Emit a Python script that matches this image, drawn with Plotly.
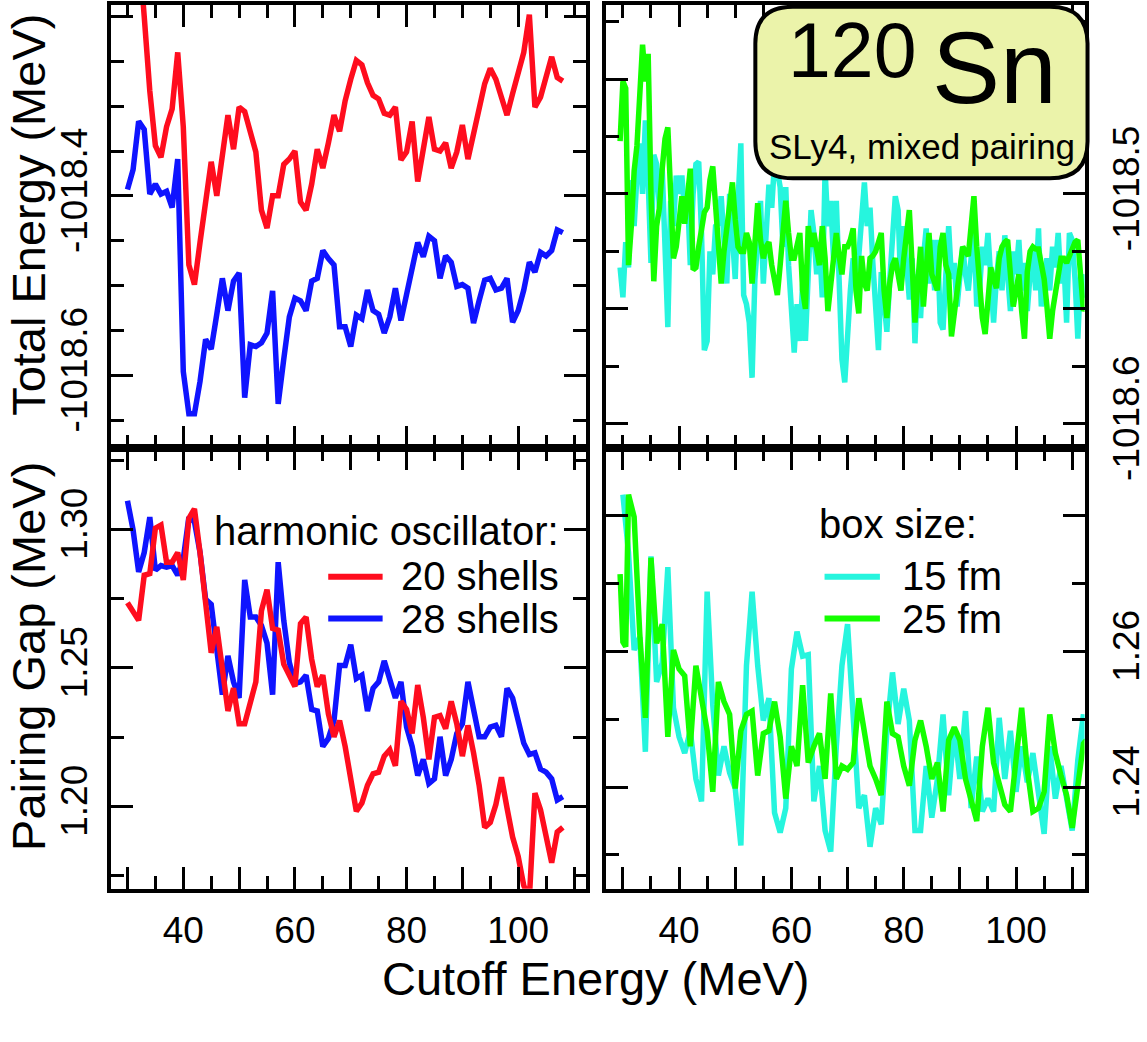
import numpy as np
import plotly.graph_objects as go

W, H = 1147, 1042

# ---------------- data ----------------
ho_x = list(range(30, 109))

energy_20_shells = [
    -1018.050, -1018.090, -1018.120, -1018.200, -1018.283, -1018.344, -1018.357, -1018.323, -1018.303, -1018.240,
    -1018.323, -1018.477, -1018.499, -1018.452, -1018.405, -1018.362, -1018.400, -1018.353, -1018.310, -1018.348,
    -1018.301, -1018.306, -1018.326, -1018.351, -1018.416, -1018.436, -1018.400, -1018.400, -1018.365, -1018.359,
    -1018.350, -1018.407, -1018.416, -1018.387, -1018.348, -1018.369, -1018.341, -1018.310, -1018.328, -1018.294,
    -1018.270, -1018.249, -1018.254, -1018.274, -1018.288, -1018.292, -1018.308, -1018.310, -1018.301, -1018.360,
    -1018.351, -1018.317, -1018.384, -1018.344, -1018.312, -1018.348, -1018.350, -1018.341, -1018.369, -1018.351,
    -1018.321, -1018.359, -1018.330, -1018.299, -1018.275, -1018.258, -1018.270, -1018.290, -1018.310, -1018.286,
    -1018.261, -1018.240, -1018.198, -1018.301, -1018.290, -1018.268, -1018.245, -1018.268, -1018.272]

energy_28_shells = [
    -1018.393, -1018.371, -1018.317, -1018.326, -1018.398, -1018.387, -1018.398, -1018.395, -1018.413, -1018.359,
    -1018.596, -1018.643, -1018.643, -1018.607, -1018.560, -1018.571, -1018.532, -1018.492, -1018.528, -1018.495,
    -1018.486, -1018.625, -1018.566, -1018.568, -1018.564, -1018.553, -1018.506, -1018.632, -1018.582, -1018.535,
    -1018.514, -1018.517, -1018.528, -1018.495, -1018.492, -1018.461, -1018.470, -1018.477, -1018.546, -1018.546,
    -1018.568, -1018.533, -1018.537, -1018.505, -1018.528, -1018.532, -1018.553, -1018.535, -1018.503, -1018.539,
    -1018.510, -1018.481, -1018.452, -1018.468, -1018.445, -1018.450, -1018.492, -1018.467, -1018.474, -1018.501,
    -1018.499, -1018.503, -1018.542, -1018.517, -1018.494, -1018.492, -1018.505, -1018.503, -1018.492, -1018.541,
    -1018.528, -1018.505, -1018.474, -1018.485, -1018.463, -1018.467, -1018.461, -1018.438, -1018.441]

gap_20_shells = [
    1.2735, 1.2706, 1.2671, 1.2834, 1.2840, 1.3004, 1.3015, 1.2881, 1.2881, 1.2916,
    1.2817, 1.3039, 1.3074, 1.2916, 1.2741, 1.2554, 1.2648, 1.2508, 1.2344, 1.2426,
    1.2298, 1.2298, 1.2368, 1.2449, 1.2706, 1.2782, 1.2642, 1.2636, 1.2513, 1.2473,
    1.2432, 1.2659, 1.2683, 1.2531, 1.2432, 1.2473, 1.2333, 1.2251, 1.2309, 1.2216,
    1.2099, 1.1982, 1.2012, 1.2076, 1.2117, 1.2123, 1.2181, 1.2204, 1.2146, 1.2379,
    1.2350, 1.2263, 1.2438, 1.2321, 1.2169, 1.2321, 1.2327, 1.2280, 1.2379, 1.2298,
    1.2181, 1.2292, 1.2193, 1.2076, 1.1924, 1.1942, 1.2006, 1.2105, 1.1994, 1.1889,
    1.1819, 1.1714, 1.1667, 1.2047, 1.1988, 1.1889, 1.1796, 1.1907, 1.1924]

gap_28_shells = [
    1.3103, 1.2998, 1.2846, 1.2916, 1.3044, 1.2852, 1.2869, 1.2863, 1.2869, 1.2834,
    1.2893, 1.3044, 1.3027, 1.2916, 1.2747, 1.2729, 1.2566, 1.2403, 1.2543, 1.2449,
    1.2391, 1.2817, 1.2683, 1.2683, 1.2653, 1.2589, 1.2403, 1.2881, 1.2671, 1.2519,
    1.2443, 1.2449, 1.2473, 1.2350, 1.2344, 1.2216, 1.2245, 1.2309, 1.2508, 1.2508,
    1.2583, 1.2461, 1.2473, 1.2344, 1.2426, 1.2449, 1.2525, 1.2461, 1.2391, 1.2449,
    1.2286, 1.2216, 1.2111, 1.2169, 1.2082, 1.2099, 1.2251, 1.2111, 1.2169, 1.2263,
    1.2298, 1.2449, 1.2356, 1.2251, 1.2251, 1.2286, 1.2292, 1.2251, 1.2426, 1.2391,
    1.2309, 1.2228, 1.2187, 1.2193, 1.2134, 1.2123, 1.2099, 1.2023, 1.2035]

box_energy_x = list(np.arange(29.5, 112.75, 0.5))

energy_15_fm = [
    -1018.532, -1018.545, -1018.521, -1018.532, -1018.494, -1018.514, -1018.492, -1018.478, -1018.500, -1018.468,
    -1018.494, -1018.530, -1018.483, -1018.487, -1018.506, -1018.489, -1018.523, -1018.558, -1018.503, -1018.514,
    -1018.492, -1018.500, -1018.492, -1018.508, -1018.500, -1018.531, -1018.500, -1018.487, -1018.486, -1018.517,
    -1018.568, -1018.564, -1018.525, -1018.535, -1018.514, -1018.513, -1018.501, -1018.521, -1018.539, -1018.500,
    -1018.520, -1018.537, -1018.503, -1018.478, -1018.544, -1018.548, -1018.556, -1018.580, -1018.537, -1018.523,
    -1018.503, -1018.539, -1018.514, -1018.496, -1018.506, -1018.486, -1018.490, -1018.497, -1018.523, -1018.497,
    -1018.531, -1018.556, -1018.569, -1018.548, -1018.564, -1018.539, -1018.564, -1018.535, -1018.507, -1018.517,
    -1018.535, -1018.521, -1018.545, -1018.490, -1018.514, -1018.503, -1018.528, -1018.503, -1018.542, -1018.572,
    -1018.582, -1018.556, -1018.542, -1018.528, -1018.537, -1018.527, -1018.514, -1018.495, -1018.514, -1018.506,
    -1018.530, -1018.552, -1018.568, -1018.534, -1018.546, -1018.560, -1018.538, -1018.517, -1018.501, -1018.507,
    -1018.542, -1018.514, -1018.535, -1018.546, -1018.528, -1018.565, -1018.535, -1018.554, -1018.528, -1018.515,
    -1018.539, -1018.520, -1018.542, -1018.520, -1018.556, -1018.559, -1018.535, -1018.514, -1018.537, -1018.530,
    -1018.549, -1018.532, -1018.523, -1018.535, -1018.542, -1018.528, -1018.515, -1018.549, -1018.542, -1018.523,
    -1018.531, -1018.517, -1018.539, -1018.556, -1018.537, -1018.525, -1018.542, -1018.518, -1018.535, -1018.551,
    -1018.525, -1018.535, -1018.520, -1018.542, -1018.530, -1018.551, -1018.535, -1018.525, -1018.542, -1018.515,
    -1018.549, -1018.539, -1018.528, -1018.542, -1018.523, -1018.532, -1018.517, -1018.539, -1018.528, -1018.556,
    -1018.517, -1018.520, -1018.537, -1018.563, -1018.535, -1018.545, -1018.535]

energy_25_fm = [
    -1018.477, -1018.451, -1018.454, -1018.531, -1018.514, -1018.490, -1018.479, -1018.458, -1018.435, -1018.451,
    -1018.439, -1018.500, -1018.538, -1018.514, -1018.506, -1018.489, -1018.476, -1018.471, -1018.500, -1018.528,
    -1018.523, -1018.513, -1018.501, -1018.513, -1018.499, -1018.489, -1018.533, -1018.532, -1018.523, -1018.514,
    -1018.508, -1018.506, -1018.494, -1018.488, -1018.506, -1018.523, -1018.539, -1018.525, -1018.514, -1018.506,
    -1018.495, -1018.511, -1018.523, -1018.525, -1018.525, -1018.517, -1018.521, -1018.539, -1018.523, -1018.504,
    -1018.520, -1018.528, -1018.523, -1018.521, -1018.531, -1018.539, -1018.544, -1018.531, -1018.517, -1018.503,
    -1018.517, -1018.528, -1018.528, -1018.523, -1018.517, -1018.542, -1018.550, -1018.514, -1018.523, -1018.517,
    -1018.525, -1018.531, -1018.514, -1018.528, -1018.551, -1018.539, -1018.528, -1018.517, -1018.527, -1018.535,
    -1018.523, -1018.523, -1018.520, -1018.515, -1018.542, -1018.552, -1018.527, -1018.539, -1018.542, -1018.528,
    -1018.527, -1018.525, -1018.521, -1018.517, -1018.542, -1018.554, -1018.539, -1018.531, -1018.528, -1018.537,
    -1018.542, -1018.528, -1018.517, -1018.507, -1018.531, -1018.556, -1018.539, -1018.523, -1018.549, -1018.531,
    -1018.517, -1018.535, -1018.539, -1018.542, -1018.523, -1018.517, -1018.531, -1018.535, -1018.562, -1018.551,
    -1018.542, -1018.531, -1018.523, -1018.525, -1018.527, -1018.514, -1018.501, -1018.523, -1018.542, -1018.554,
    -1018.561, -1018.542, -1018.532, -1018.537, -1018.541, -1018.528, -1018.523, -1018.521, -1018.520, -1018.535,
    -1018.549, -1018.542, -1018.535, -1018.551, -1018.563, -1018.534, -1018.525, -1018.523, -1018.524, -1018.524,
    -1018.531, -1018.537, -1018.549, -1018.563, -1018.551, -1018.542, -1018.535, -1018.528, -1018.528, -1018.530,
    -1018.527, -1018.523, -1018.521, -1018.520, -1018.535, -1018.551, -1018.548]

gap_15_fm_x = list(range(30, 113)) + [112.5]
gap_15_fm = [
    1.2831, 1.2745, 1.2602, 1.2621, 1.2452, 1.2740, 1.2555, 1.2583, 1.2724, 1.2517,
    1.2474, 1.2450, 1.2483, 1.2412, 1.2379, 1.2688, 1.2521, 1.2417, 1.2460, 1.2421,
    1.2398, 1.2314, 1.2579, 1.2688, 1.2579, 1.2498, 1.2531, 1.2362, 1.2333, 1.2369,
    1.2574, 1.2629, 1.2593, 1.2595, 1.2379, 1.2431, 1.2336, 1.2305, 1.2460, 1.2579,
    1.2640, 1.2507, 1.2369, 1.2388, 1.2312, 1.2369, 1.2345, 1.2483, 1.2569, 1.2493,
    1.2545, 1.2498, 1.2336, 1.2336, 1.2431, 1.2355, 1.2412, 1.2507, 1.2388, 1.2488,
    1.2412, 1.2512, 1.2369, 1.2445, 1.2364, 1.2383, 1.2364, 1.2502, 1.2412, 1.2483,
    1.2393, 1.2460, 1.2407, 1.2450, 1.2383, 1.2331, 1.2460, 1.2383, 1.2431, 1.2383,
    1.2336, 1.2440, 1.2507, 1.2469]

gap_25_fm_x = [29.5, 30, 30.5, 31] + list(range(32, 113)) + [112.5]
gap_25_fm = [
    1.2714, 1.2614, 1.2607, 1.2831,
    1.2798, 1.2626, 1.2502, 1.2738, 1.2612, 1.2640, 1.2474, 1.2602, 1.2574, 1.2564,
    1.2460, 1.2579, 1.2531, 1.2483, 1.2393, 1.2555, 1.2526, 1.2507, 1.2398, 1.2483,
    1.2507, 1.2512, 1.2417, 1.2479, 1.2483, 1.2526, 1.2474, 1.2383, 1.2460, 1.2431,
    1.2550, 1.2436, 1.2460, 1.2479, 1.2412, 1.2538, 1.2412, 1.2431, 1.2426, 1.2436,
    1.2531, 1.2483, 1.2431, 1.2412, 1.2388, 1.2526, 1.2479, 1.2474, 1.2431, 1.2402,
    1.2469, 1.2498, 1.2460, 1.2412, 1.2436, 1.2364, 1.2469, 1.2488, 1.2469, 1.2412,
    1.2379, 1.2350, 1.2460, 1.2517, 1.2436, 1.2402, 1.2374, 1.2364, 1.2450, 1.2517,
    1.2426, 1.2364, 1.2369, 1.2393, 1.2507, 1.2450, 1.2417, 1.2388, 1.2340, 1.2398,
    1.2464, 1.2469]

x_tickvals = [30, 40, 50, 60, 70, 80, 90, 100, 110]
x_ticktext = ["", "40", "", "60", "", "80", "", "100", ""]

# ---------------- style ----------------
RED, BLUE, CYAN, GREEN = "#ff0d1e", "#0f14ff", "#26f5de", "#14ff00"
FONT = "Liberation Sans, Arial, sans-serif"
LW = 5.5

def px(x):
    return x / W

def py(y):
    return 1 - y / H

fig = go.Figure()

def add(x, y, color, xa, ya):
    fig.add_trace(go.Scatter(x=x, y=y, mode="lines", xaxis=xa, yaxis=ya,
                             line=dict(color=color, width=LW), showlegend=False,
                             hoverinfo="skip"))

add(ho_x, energy_28_shells, BLUE, "x", "y")
add(ho_x, energy_20_shells, RED, "x", "y")
add(box_energy_x, energy_15_fm, CYAN, "x2", "y2")
add(box_energy_x, energy_25_fm, GREEN, "x2", "y2")
add(ho_x, gap_28_shells, BLUE, "x3", "y3")
add(ho_x, gap_20_shells, RED, "x3", "y3")
add(gap_15_fm_x, gap_15_fm, CYAN, "x4", "y4")
add(gap_25_fm_x, gap_25_fm, GREEN, "x4", "y4")

common = dict(showline=True, linecolor="black", linewidth=4, mirror="allticks",
              ticks="inside", tickcolor="black", tickwidth=3, ticklen=22,
              showgrid=False, zeroline=False,
              tickfont=dict(size=37, color="black", family=FONT))

def minor(dt, t0):
    return dict(ticks="inside", ticklen=13, tickwidth=3, tickcolor="black",
                dtick=dt, tick0=t0, tickmode="linear", showgrid=False)

left_dom = [px(112), px(593)]
right_dom = [px(613), px(1097)]
top_dom = [py(462), py(5)]
bot_dom = [py(917), py(462)]
XR = [27.0, 112.2]

xcommon = dict(common, range=XR, tickmode="array", tickvals=x_tickvals,
               ticktext=x_ticktext, minor=minor(5, 30), ticklabelstandoff=6)

fig.update_layout(
    width=W, height=H, margin=dict(l=0, r=0, t=0, b=0),
    paper_bgcolor="white", plot_bgcolor="white",
    font=dict(family=FONT, color="black"),
    xaxis=dict(xcommon, domain=left_dom, anchor="y", showticklabels=False),
    xaxis2=dict(xcommon, domain=right_dom, anchor="y2", showticklabels=False),
    xaxis3=dict(xcommon, domain=left_dom, anchor="y3"),
    xaxis4=dict(xcommon, domain=right_dom, anchor="y4"),
    yaxis=dict(common, domain=top_dom, anchor="x", range=[-1018.681, -1018.187],
               tickmode="array", tickvals=[-1018.2, -1018.4, -1018.6],
               ticktext=["", "-1018.4", "-1018.6"], tickangle=-90,
               minor=minor(0.05, -1018.4), ticklabelstandoff=5),
    yaxis2=dict(common, domain=top_dom, anchor="x2", side="right",
                range=[-1018.6105, -1018.4177], tickmode="array",
                tickvals=[-1018.45, -1018.5, -1018.55, -1018.6],
                ticktext=["", "-1018.5", "", "-1018.6"], tickangle=-90,
                minor=minor(0.025, -1018.5), ticklabelstandoff=6),
    yaxis3=dict(common, domain=bot_dom, anchor="x3", range=[1.1702, 1.3294],
                tickmode="array", tickvals=[1.20, 1.25, 1.30],
                ticktext=["1.20", "1.25", "1.30"], tickangle=-90,
                minor=minor(0.025, 1.2), ticklabelstandoff=5),
    yaxis4=dict(common, domain=bot_dom, anchor="x4", side="right",
                range=[1.2250, 1.2900], tickmode="array",
                tickvals=[1.24, 1.26, 1.28], ticktext=["1.24", "1.26", ""],
                tickangle=-90, minor=minor(0.01, 1.24), ticklabelstandoff=6),
)

# rounded label box
x0b, x1b, t_b, b_b, r = 764, 1100, 7, 184, 38
rx, ry = r / W, r / H
X0, X1, T, B = px(x0b), px(x1b), py(t_b), py(b_b)
path = (f"M {X0+rx},{T} L {X1-rx},{T} Q {X1},{T} {X1},{T-ry} "
        f"L {X1},{B+ry} Q {X1},{B} {X1-rx},{B} L {X0+rx},{B} "
        f"Q {X0},{B} {X0},{B+ry} L {X0},{T-ry} Q {X0},{T} {X0+rx},{T} Z")
shapes = [dict(type="path", xref="paper", yref="paper", path=path,
               fillcolor="#ebf3aa", line=dict(color="black", width=4), layer="above")]

ROW1, ROW2 = 594, 639

# legend line samples
for (xa, xb, yy, col) in [(332, 387, ROW1 + 1, RED), (332, 387, ROW2 - 1, BLUE),
                          (834, 890, ROW1 + 1, CYAN), (834, 890, ROW2 - 1, GREEN)]:
    shapes.append(dict(type="line", xref="paper", yref="paper",
                       x0=px(xa), x1=px(xb), y0=py(yy), y1=py(yy),
                       line=dict(color=col, width=6), layer="above"))
fig.update_layout(shapes=shapes)

def ann(text, x, y, size, xanchor="center", yanchor="middle", angle=0, pad=1):
    return dict(text=text, x=px(x), y=py(y), xref="paper", yref="paper",
                showarrow=False, xanchor=xanchor, yanchor=yanchor, borderpad=pad,
                textangle=angle, font=dict(size=size, color="black", family=FONT))

fig.update_layout(annotations=[
    ann("Total Energy (MeV)", 29, 222, 47, angle=-90),
    ann("Pairing Gap (MeV)", 29, 677, 47, angle=-90),
    ann("Cutoff Energy (MeV)", 603, 1010, 47),
    ann("harmonic oscillator:", 566, 548, 40, xanchor="right", pad=0),
    ann("20 shells", 566, ROW1, 40, xanchor="right", pad=0),
    ann("28 shells", 566, ROW2, 40, xanchor="right", pad=0),
    ann("box size:", 827, 541, 40, xanchor="left", pad=0),
    ann("15 fm", 1014, ROW1, 40, xanchor="right", pad=0),
    ann("25 fm", 1014, ROW2, 40, xanchor="right", pad=0),
    ann("120", 862, 52, 77, pad=0),
    ann("Sn", 1006, 70, 102, pad=0),
    ann("SLy4, mixed pairing", 933, 151, 35, pad=0),
])

fig.write_html("out.html")
